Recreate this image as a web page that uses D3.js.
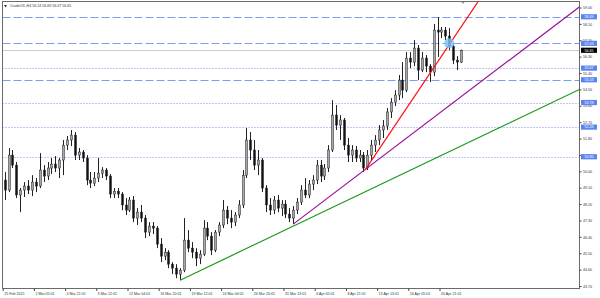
<!DOCTYPE html>
<html>
<head>
<meta charset="utf-8">
<script src="https://cdn.jsdelivr.net/npm/d3@7"></script>
<style>
body { margin: 0; background: #fff; }
svg { display: block; font-family: "Liberation Sans", Arial, sans-serif; }
</style>
</head>
<body>
<div id="chart"></div>
<script>
var symbol = 'CrudeOIL,H4';
var lastBar = [56.24, 56.69, 56.07, 56.65];

// one candle per two H4 bars
var opens = [49.52,48.97,50.89,50.34,48.70,48.97,49.19,48.97,49.41,49.19,
	50.07,49.74,50.18,50.40,50.18,50.62,51.44,51.72,51.99,50.89,
	51.06,50.73,49.52,49.35,49.63,49.90,50.07,49.74,48.75,48.91,
	48.75,48.15,47.87,48.42,47.43,47.76,47.43,46.66,46.99,46.88,
	46.00,45.34,45.56,44.90,44.68,44.35,44.57,46.22,45.78,45.56,
	45.23,45.45,46.88,46.44,45.67,46.66,47.05,47.87,47.43,47.21,
	47.60,48.15,49.79,51.72,51.17,50.34,50.62,49.08,48.15,47.87,
	48.42,47.98,48.20,47.65,47.43,47.87,48.31,48.97,48.70,49.30,
	49.52,50.34,49.74,50.18,51.17,53.09,52.54,52.82,51.44,50.89,
	51.17,50.73,50.89,50.18,50.89,51.44,51.72,52.27,52.49,53.26,
	53.80,54.19,55.01,54.46,56.22,56.00,56.77,55.56,56.22,55.78,
	55.45,57.76,57.65,57.76,57.43,56.88,56.11,56.00];
var highs = [49.96,51.28,51.17,50.51,49.08,49.41,49.52,49.79,49.63,51.00,
	50.34,50.51,50.73,50.84,50.73,51.72,51.94,52.27,52.16,51.28,
	51.17,50.89,49.96,49.96,50.73,50.23,50.18,49.85,49.08,49.08,
	48.86,48.53,48.59,48.64,47.98,48.15,47.60,47.21,47.21,46.99,
	46.33,45.78,45.67,45.01,44.90,44.68,47.43,46.77,46.11,45.78,
	45.67,47.32,47.21,46.66,46.77,47.21,48.42,48.09,47.87,47.76,
	48.42,50.07,52.38,52.16,51.72,51.17,50.73,49.24,48.53,48.64,
	48.70,48.42,48.42,47.98,48.09,48.53,49.24,49.63,49.52,49.79,
	50.62,50.62,50.40,51.44,53.91,53.64,53.09,52.93,51.83,51.44,
	51.39,51.17,51.06,51.17,51.72,51.99,52.54,52.82,53.48,54.02,
	54.46,55.29,56.00,56.55,56.55,57.21,56.94,56.55,56.39,55.89,
	58.09,58.48,57.93,57.93,57.87,56.99,56.33,56.69];
var lows = [48.42,48.86,50.18,48.53,47.76,48.59,48.75,48.64,48.86,49.08,
	49.41,49.52,49.85,49.96,49.63,49.79,51.17,51.39,50.62,50.62,
	50.51,49.24,49.08,49.19,49.41,49.63,49.52,48.53,48.53,48.53,
	47.87,47.60,47.76,47.21,47.05,47.21,46.33,46.44,46.55,45.78,
	45.01,45.12,44.68,44.35,44.13,44.02,44.46,45.56,45.23,44.79,
	44.90,45.34,46.22,45.40,45.56,46.44,46.88,47.10,46.88,46.99,
	47.43,47.98,49.63,50.62,50.07,49.79,48.86,47.76,47.60,47.65,
	47.76,47.54,47.43,47.21,47.10,47.65,48.15,48.53,48.53,48.97,
	49.30,49.41,49.52,49.96,51.06,52.27,51.72,51.17,50.51,50.51,
	50.51,50.51,49.96,50.07,50.62,51.06,51.44,51.83,52.27,52.93,
	53.58,53.91,54.02,54.35,55.67,55.78,55.01,55.45,55.45,54.90,
	55.23,56.28,57.32,57.21,56.66,55.89,55.56,55.95];
var closes = [48.97,50.89,50.34,48.70,48.97,49.19,48.97,49.41,49.19,50.07,
	49.74,50.18,50.40,50.18,50.62,51.44,51.72,51.99,50.89,51.06,
	50.73,49.52,49.35,49.63,49.90,50.07,49.74,48.75,48.91,48.75,
	48.15,47.87,48.42,47.43,47.76,47.43,46.66,46.99,46.88,46.00,
	45.34,45.56,44.90,44.68,44.35,44.57,46.22,45.78,45.56,45.23,
	45.45,46.88,46.44,45.67,46.66,47.05,47.87,47.43,47.21,47.60,
	48.15,49.79,51.72,51.17,50.34,50.62,49.08,48.15,47.87,48.42,
	47.98,48.20,47.65,47.43,47.87,48.31,48.97,48.70,49.30,49.52,
	50.34,49.74,50.18,51.17,53.09,52.54,52.82,51.44,50.89,51.17,
	50.73,50.89,50.18,50.89,51.44,51.72,52.27,52.49,53.26,53.80,
	54.19,55.01,54.46,56.22,56.00,56.77,55.56,56.22,55.78,55.45,
	57.76,57.65,57.76,57.43,56.88,56.11,56.00,56.65];

var timeBars = [0, 16, 32, 48, 64, 80, 96, 112, 128, 144, 160, 176, 192, 208, 224];
var timeLabels = ['25 Feb 2015', '2 Mar 05:01', '4 Mar 21:01', '9 Mar 12:01', '12 Mar 04:01',
	'16 Mar 20:01', '19 Mar 12:01', '24 Mar 04:01', '26 Mar 20:01', '31 Mar 13:01',
	'6 Apr 05:01', '8 Apr 21:01', '13 Apr 13:01', '16 Apr 05:01', '20 Apr 21:01'];
var priceTicks = [59.00, 58.10, 57.20, 56.30, 55.40, 54.50, 53.60, 52.70, 51.80,
	50.90, 50.00, 49.10, 48.20, 47.30, 46.40, 45.50, 44.60, 43.70];

var dashLevels = [58.49, 57.03, 55.03];
var dotLevels = [55.67, 53.78, 52.43, 50.80];
var bidPrice = 56.65;

// trend lines: [H4 bar, price] anchors
var trendGreen = [[91, 44.02], [295, 54.46]];
var trendPurple = [[149, 47.10], [295, 58.97]];
var trendRed = [[185.8, 50.07], [214, 54.57]];
var markPoint = [229, 57.03];

var W = 600, H = 298;
var pl = 2.5, pr = 579.5, pt = 1.5, pb = 288.5;

var svg = d3.select('#chart').append('svg').attr('width', W).attr('height', H);

var x = d3.scaleLinear().domain([0, 296]).range([2.7, 579.9]);
var y = d3.scaleLinear().domain([43.7, 59.0]).range([286, 7.5]);

svg.append('clipPath').attr('id', 'plotclip')
	.append('rect').attr('x', pl).attr('y', pt).attr('width', pr - pl).attr('height', pb - pt);

var plot = svg.append('g').attr('clip-path', 'url(#plotclip)');

function yr(p) { return Math.round(y(p)) + 0.5; }

// horizontal levels
plot.selectAll('.dash').data(dashLevels).enter().append('line')
	.attr('x1', pl).attr('x2', pr).attr('y1', yr).attr('y2', yr)
	.attr('stroke', '#7d9cf6').attr('stroke-width', 1).attr('stroke-dasharray', '8,3');

plot.selectAll('.dot').data(dotLevels).enter().append('line')
	.attr('x1', pl).attr('x2', pr).attr('y1', yr).attr('y2', yr)
	.attr('stroke', '#7f92ea').attr('stroke-width', 1).attr('stroke-dasharray', '1,2');

plot.append('line')
	.attr('x1', pl).attr('x2', pr).attr('y1', yr(bidPrice)).attr('y2', yr(bidPrice))
	.attr('stroke', '#cccccc').attr('stroke-width', 1);

// candles
var candles = d3.range(opens.length).map(function(i) {
	return { bar: 2 * i + 1, o: opens[i], h: highs[i], l: lows[i], c: closes[i] };
});

plot.selectAll('.wick').data(candles).enter().append('line')
	.attr('x1', function(d) { return Math.round(x(d.bar)) + 0.5; })
	.attr('x2', function(d) { return Math.round(x(d.bar)) + 0.5; })
	.attr('y1', function(d) { return y(d.h); })
	.attr('y2', function(d) { return y(d.l); })
	.attr('stroke', '#222').attr('stroke-width', 1);

plot.selectAll('.body').data(candles).enter().append('rect')
	.attr('x', function(d) { return Math.round(x(d.bar)) - 0.5; })
	.attr('width', 2)
	.attr('y', function(d) { return y(Math.max(d.o, d.c)); })
	.attr('height', function(d) { return Math.max(0.8, Math.abs(y(d.o) - y(d.c))); })
	.attr('fill', function(d) { return d.c >= d.o ? '#a8a8a8' : '#111'; })
	.attr('stroke', '#222').attr('stroke-width', 0.5);

// trend lines, drawn as rays to the right edge
function ray(pts) {
	var b0 = pts[0][0], p0 = pts[0][1], b1 = pts[1][0], p1 = pts[1][1];
	var k = (p1 - p0) / (b1 - b0);
	return [[b0, p0], [296, p0 + k * (296 - b0)]];
}
var line = d3.line().x(function(d) { return x(d[0]); }).y(function(d) { return y(d[1]); });

[[trendGreen, '#1a9a1a'], [trendPurple, '#9a109a'], [trendRed, '#ff1010']].forEach(function(t) {
	plot.append('path').attr('d', line(ray(t[0])))
		.attr('fill', 'none').attr('stroke', t[1]).attr('stroke-width', 1.2);
});

plot.append('circle')
	.attr('cx', x(markPoint[0])).attr('cy', y(markPoint[1])).attr('r', 5)
	.attr('fill', '#7cc0f2').attr('opacity', 0.8);

// chart shift marker
var sx = Math.round(x(2 * opens.length));
svg.append('path').attr('d', 'M' + (sx - 2) + ',' + pt + 'L' + (sx + 2) + ',' + pt + 'L' + sx + ',' + (pt + 2.5) + 'Z')
	.attr('fill', '#999');

// frame
svg.append('rect').attr('x', pl).attr('y', pt).attr('width', pr - pl).attr('height', pb - pt)
	.attr('fill', 'none').attr('stroke', '#6a6a6a').attr('stroke-width', 1);

// price axis
var yAxis = d3.axisRight(y).tickValues(priceTicks).tickSize(2).tickPadding(1.5)
	.tickFormat(function(d) { return d.toFixed(2); });
var ya = svg.append('g').attr('transform', 'translate(' + pr + ',0)').call(yAxis);
ya.select('.domain').remove();
ya.selectAll('line').attr('stroke', '#444');
ya.selectAll('text').attr('font-size', 3.6).attr('fill', '#333').attr('font-family', null);

// time axis
var xAxis = d3.axisBottom(x).tickValues(timeBars).tickSize(2.5).tickPadding(2)
	.tickFormat(function(d, i) { return timeLabels[i]; });
var xa = svg.append('g').attr('transform', 'translate(0,' + pb + ')').call(xAxis);
xa.select('.domain').remove();
xa.selectAll('line').attr('stroke', '#444');
xa.selectAll('text').attr('font-size', 3.6).attr('fill', '#333').attr('font-family', null)
	.attr('text-anchor', 'start').attr('dx', 1).attr('y', 3.5);

// level labels
var tags = dashLevels.concat(dotLevels).map(function(p) { return { p: p, bg: '#5b84ee' }; });
tags.push({ p: bidPrice, bg: '#000' });
var tg = svg.selectAll('.tag').data(tags).enter().append('g')
	.attr('transform', function(d) { return 'translate(' + (pr + 1.5) + ',' + y(d.p) + ')'; });
tg.append('rect').attr('x', 0).attr('y', -2.6).attr('width', 16).attr('height', 5.2)
	.attr('fill', function(d) { return d.bg; });
tg.append('text').attr('x', 3.5).attr('dy', '0.34em').attr('font-size', 3.6).attr('fill', '#fff')
	.text(function(d) { return d.p.toFixed(2); });

// title
svg.append('path').attr('d', 'M4,5L7,5L5.5,7.5Z').attr('fill', '#333');
svg.append('text').attr('x', 10).attr('y', 7.3).attr('font-size', 3.6).attr('fill', '#333')
	.text(symbol + '  ' + lastBar.map(function(v) { return v.toFixed(2); }).join(' '));
</script>
</body>
</html>
